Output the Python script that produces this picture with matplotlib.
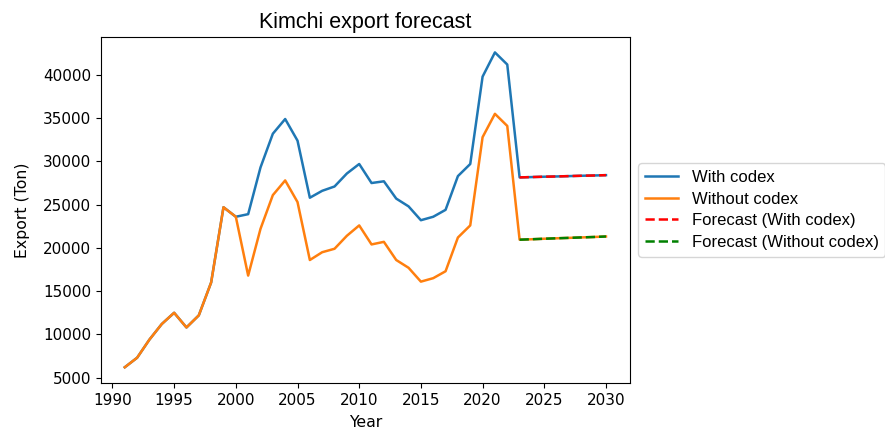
import matplotlib
matplotlib.use("Agg")
import matplotlib.pyplot as plt
import numpy as np

# history (1991-2022) and forecast (2023-2030), tons
hist_years = list(range(1991, 2023))
fc_years = list(range(2023, 2031))

with_codex = [6200, 7300, 9400, 11200, 12500, 10800, 12200, 16000, 24700, 23600,
              23900, 29300, 33200, 34900, 32400, 25800, 26600, 27100, 28600, 29700,
              27500, 27700, 25700, 24800, 23200, 23600, 24400, 28300, 29700, 39800,
              42600, 41200]
without_codex = [6200, 7300, 9400, 11200, 12500, 10800, 12200, 16000, 24700, 23600,
                 16800, 22200, 26100, 27800, 25300, 18600, 19500, 19900, 21400, 22600,
                 20400, 20700, 18600, 17700, 16100, 16500, 17300, 21200, 22600, 32800,
                 35500, 34100]

fc_with = [28150, 28190, 28230, 28260, 28300, 28340, 28370, 28410]
fc_without = [20950, 21000, 21060, 21110, 21160, 21210, 21260, 21320]

years = hist_years + fc_years

fig = plt.figure(figsize=(8.85, 4.3), dpi=100)
ax = fig.add_axes([0.1138, 0.1093, 0.5981, 0.8054])

lw = 1.8
ax.plot(years, with_codex + fc_with, lw=lw, label="With codex")
ax.plot(years, without_codex + fc_without, lw=lw, label="Without codex")
ax.plot(fc_years, fc_with, 'r--', lw=lw, label="Forecast (With codex)")
ax.plot(fc_years, fc_without, 'g--', lw=lw, label="Forecast (Without codex)")

ax.set_xticks(range(1990, 2031, 5))
ax.set_yticks(range(5000, 40001, 5000))
ax.tick_params(labelsize=11)

ax.set_title("Kimchi export forecast", fontsize=15.5, family="Liberation Sans")
ax.set_xlabel("Year", fontsize=11.3, labelpad=5)
ax.set_ylabel("Export (Ton)", fontsize=11.3, labelpad=9)

ax.legend(loc="center left", bbox_to_anchor=(1, 0.5),
          prop={"family": "Liberation Sans", "size": 12}, labelspacing=0.4)

fig.savefig("out.png", dpi=100)
